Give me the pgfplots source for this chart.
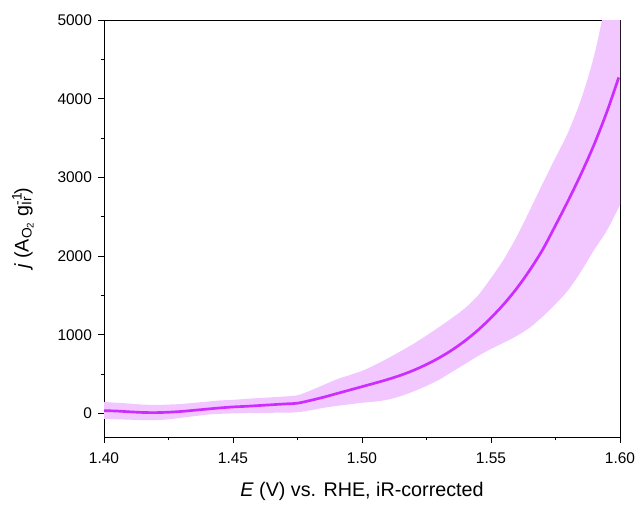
\documentclass[border=0pt]{standalone}
\usepackage{fontspec}
\setmainfont{Liberation Sans}
\usepackage{pgfplots}
\pgfplotsset{compat=1.18}
\usepgfplotslibrary{fillbetween}
\definecolor{linec}{RGB}{204,44,255}
\definecolor{bandc}{RGB}{242,198,255}
\begin{document}
\begin{tikzpicture}[x=0.75pt,y=0.75pt]
\begin{axis}[
  scale only axis,
  width=387pt, height=312.75pt,
  xmin=1.40, xmax=1.60, ymin=-300, ymax=5000,
  xtick={1.40,1.45,1.50,1.55,1.60},
  ytick={0,1000,2000,3000,4000,5000},
  minor x tick num=1, minor y tick num=1,
  tick align=outside, xtick pos=left, ytick pos=left,
  major tick length=4.5pt, minor tick length=2.5pt,
  tick style={black, line width=0.6pt},
  axis line style={line width=0.7pt},
  scaled y ticks=false, scaled x ticks=false,
  /pgf/number format/assume math mode=true,
  tick label style={font=\fontsize{11.6}{13}\selectfont},
  label style={font=\fontsize{14.8}{17}\selectfont},
  xticklabel style={yshift=-4pt,/pgf/number format/.cd,fixed,fixed zerofill,precision=2,assume math mode=true},
  yticklabel style={xshift=-1pt,/pgf/number format/.cd,1000 sep={},assume math mode=true},
  xlabel={\textit{E} (V) vs. RHE, iR-corrected},
  ylabel={\textit{j} (A\textsubscript{O\textsubscript{2}} g\makebox[0pt][l]{\textsuperscript{-1}}\textsubscript{Ir}\hspace{1pt})},
  xlabel style={yshift=-7pt},
  ylabel style={yshift=11pt},
]
\addplot[name path=up, draw=none, forget plot, smooth] table {
x y
1.400 145
1.405 135
1.410 125
1.415 112
1.420 108
1.425 112
1.430 120
1.435 135
1.440 150
1.445 165
1.450 172
1.455 185
1.460 195
1.465 205
1.470 215
1.475 230
1.480 290
1.485 360
1.490 430
1.495 485
1.500 540
1.505 615
1.510 700
1.515 790
1.520 885
1.525 990
1.530 1100
1.535 1215
1.540 1340
1.545 1500
1.550 1720
1.555 1960
1.560 2250
1.565 2580
1.570 2920
1.575 3250
1.580 3580
1.585 4000
1.590 4550
1.595 5300
1.600 6000
};
\addplot[name path=lo, draw=none, forget plot, smooth] table {
x y
1.400 -70
1.405 -75
1.410 -80
1.415 -85
1.420 -85
1.425 -75
1.430 -55
1.435 -35
1.440 -15
1.445 -5
1.450 0
1.455 5
1.460 5
1.465 8
1.470 10
1.475 15
1.480 40
1.485 70
1.490 95
1.495 115
1.500 135
1.505 150
1.510 175
1.515 220
1.520 280
1.525 350
1.530 430
1.535 530
1.540 630
1.545 730
1.550 820
1.555 900
1.560 985
1.565 1090
1.570 1230
1.575 1390
1.580 1570
1.585 1810
1.590 2080
1.595 2330
1.600 2650
};
\addplot[bandc, forget plot] fill between[of=up and lo];
\addplot[linec, line width=2pt, smooth] table {
x y
1.400 35
1.405 30
1.410 20
1.415 12
1.420 10
1.425 15
1.430 25
1.435 40
1.440 55
1.445 70
1.450 82
1.455 90
1.460 100
1.465 110
1.470 120
1.475 130
1.480 165
1.485 205
1.490 250
1.495 295
1.500 340
1.505 385
1.510 432
1.515 485
1.520 548
1.525 622
1.530 708
1.535 808
1.540 925
1.545 1060
1.550 1215
1.555 1390
1.560 1590
1.565 1820
1.570 2080
1.575 2390
1.580 2710
1.585 3050
1.590 3420
1.595 3840
1.5995 4270
};
\coordinate (O) at (rel axis cs:0,0);
\end{axis}
\pgfresetboundingbox
\path (O) ++(-104,-67) rectangle ++(641,504);
\end{tikzpicture}
\end{document}
